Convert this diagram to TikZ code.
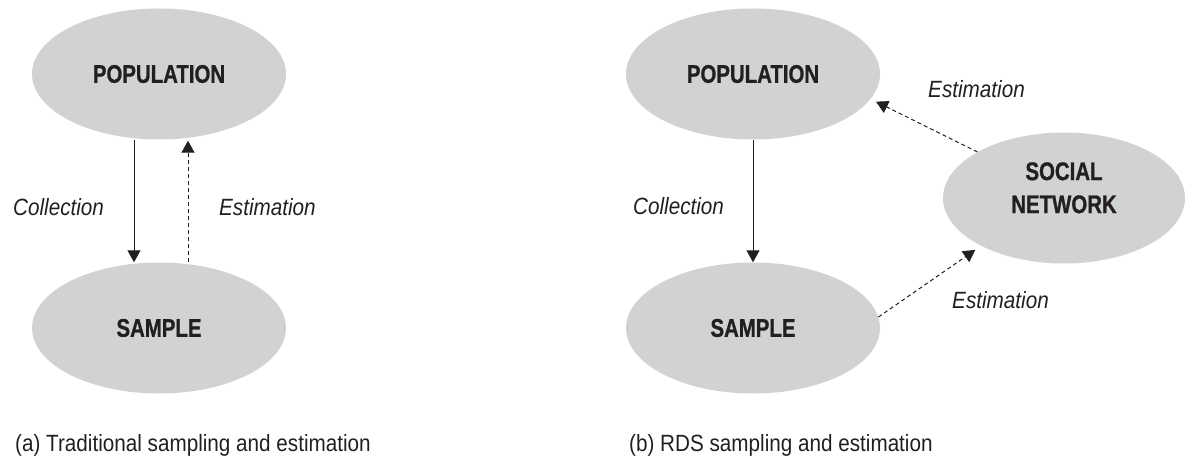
\documentclass[tikz,border=0pt]{standalone}
\usepackage{fontspec}
\setmainfont{Liberation Sans}[FakeStretch=0.88]
\newfontfamily\blobfont{Liberation Sans}[FakeStretch=0.8, BoldFeatures={FakeBold=0.8}]
\usetikzlibrary{arrows.meta}
\usetikzlibrary{shapes.geometric}
\definecolor{blobgray}{RGB}{209,210,212}
\definecolor{inkblack}{RGB}{35,31,32}

\begin{document}
\begin{tikzpicture}[x=1pt, y=-1pt,
  blob/.style={ellipse, fill=blobgray, minimum width=254pt, minimum height=131pt,
    inner sep=0pt, align=center, text=inkblack,
    font=\blobfont\bfseries\fontsize{25.5}{33}\selectfont},
  lab/.style={anchor=west, inner sep=0pt, text=inkblack,
    font=\itshape\fontsize{23.5}{28}\selectfont},
  caption/.style={anchor=base west, inner sep=0pt, text=inkblack,
    font=\fontsize{23.5}{28}\selectfont},
  flow/.style={draw=inkblack, line width=1pt, -{Triangle[length=12pt,width=13pt]}},
  est/.style={flow, dash pattern=on 4pt off 3pt}]

\useasboundingbox (0,0) rectangle (1185,470);

% (a) traditional
\node[blob] (pop1) at (159,74) {POPULATION};
\node[blob] (sam1) at (159,328) {SAMPLE};
\draw[flow] ([xshift=-25pt]pop1.south) -- ([xshift=-25pt]sam1.north);
\draw[est, shorten >=1pt] ([xshift=29pt]sam1.north) -- ([xshift=29pt]pop1.south);
\node[lab] (col1) at (13,207) {Collection};
\node[lab] (est1) at (219,207) {Estimation};
\node[caption] (capa) at (15,451) {(a) Traditional sampling and estimation};

% (b) RDS
\node[blob] (pop2) at (753,74) {POPULATION};
\node[blob] (sam2) at (753,328) {SAMPLE};
\node[blob, minimum width=242pt] (soc) at (1064,198)
  {\raisebox{8pt}[\height][\depth]{\begin{tabular}{@{}c@{}}SOCIAL\\NETWORK\end{tabular}}};
\draw[flow] (pop2) -- (sam2);
\draw[est, shorten >=6pt] (soc.152) -- (pop2.-12);
\draw[est, shorten >=7pt] (sam2.5) -- (soc.210);
\node[lab] (col2) at (633,206) {Collection};
\node[lab] (est2) at (928,89) {Estimation};
\node[lab] (est3) at (952,300) {Estimation};
\node[caption] (capb) at (629,451) {(b) RDS sampling and estimation};

\end{tikzpicture}
\end{document}
